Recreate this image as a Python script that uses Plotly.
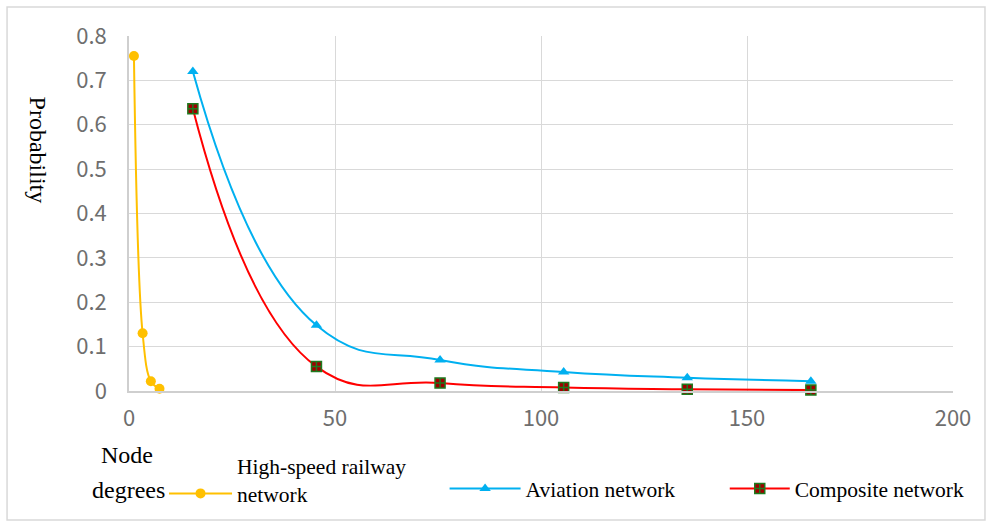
import plotly.graph_objects as go

# Data
hsr_x = [1.2, 3.3, 5.3, 7.4]
hsr_y = [0.755, 0.130, 0.022, 0.005]

air_x = [15.5, 45.5, 75.5, 105.5, 135.5, 165.5]
air_y = [0.720, 0.148, 0.070, 0.043, 0.030, 0.022]

comp_x = [15.5, 45.5, 75.5, 105.5, 135.5, 165.5]
comp_y = [0.636, 0.055, 0.018, 0.008, 0.004, 0.002]

names = ["High-speed railway<br>network", "Aviation network", "Composite network"]

serif = "Liberation Serif, Times New Roman, serif"
sans = "Noto Sans CJK SC, Noto Sans, sans-serif"

fig = go.Figure()
fig.add_trace(go.Scatter(
    x=hsr_x, y=hsr_y, name=names[0], mode="lines+markers",
    line=dict(color="#FFC000", width=2, shape="spline", smoothing=1),
    marker=dict(symbol="circle", size=10, color="#FFC000"),
    cliponaxis=False, legend="legend"))
fig.add_trace(go.Scatter(
    x=air_x, y=air_y, name=names[1], mode="lines+markers",
    line=dict(color="#00B0F0", width=2, shape="spline", smoothing=1.3),
    marker=dict(symbol="triangle-up", size=10, color="#00B0F0"),
    cliponaxis=False, legend="legend2"))
fig.add_trace(go.Scatter(
    x=comp_x, y=comp_y, name=names[2], mode="lines+markers",
    line=dict(color="#FF0000", width=2, shape="spline", smoothing=1.3),
    marker=dict(symbol="square-cross", size=10, color="#A00000",
                line=dict(color="#1E7A1E", width=1.5)),
    cliponaxis=False, legend="legend3"))

axis_common = dict(showgrid=True, gridcolor="#D9D9D9", gridwidth=1,
                   zeroline=False, showline=True, linecolor="#CFCFCF",
                   linewidth=1.5, ticks="",
                   tickfont=dict(family=sans, size=22, color="#6E6E6E"))

fig.update_xaxes(range=[0, 200], dtick=50, tick0=0, ticklabelstandoff=7, **axis_common)
fig.update_yaxes(range=[0, 0.8], dtick=0.1, tick0=0, ticklabelstandoff=16, **axis_common)

legend_common = dict(orientation="h", yanchor="top", xanchor="left",
                     font=dict(family=serif, size=21.5, color="#000000"),
                     bgcolor="rgba(0,0,0,0)", valign="bottom")

fig.update_layout(
    width=990, height=525,
    margin=dict(l=129, r=37, t=36, b=134, autoexpand=False),
    paper_bgcolor="white", plot_bgcolor="white",
    showlegend=True,
    legend=dict(x=0.0425, y=-0.152, itemwidth=63, **legend_common),
    legend2=dict(x=0.383, y=-0.217, itemwidth=71, **legend_common),
    legend3=dict(x=0.723, y=-0.217, itemwidth=60, **legend_common),
    annotations=[
        dict(text="Probability", x=-0.110, y=0.679, xref="paper", yref="paper",
             xanchor="center", yanchor="middle",
             textangle=90, showarrow=False,
             font=dict(family=serif, size=24, color="#000000")),
        dict(text="Node", x=-0.002, y=-0.180, xref="paper", yref="paper",
             xanchor="center", yanchor="middle", showarrow=False,
             font=dict(family=serif, size=24, color="#000000")),
        dict(text="degrees", x=-0.001, y=-0.279, xref="paper", yref="paper",
             xanchor="center", yanchor="middle", showarrow=False,
             font=dict(family=serif, size=24, color="#000000")),
    ],
    shapes=[dict(type="rect", xref="paper", yref="paper",
                 x0=-0.148, x1=1.0388, y0=-0.3634, y1=1.0817,
                 line=dict(color="#D9D9D9", width=1.5), fillcolor="rgba(0,0,0,0)",
                 layer="below")],
)

fig.write_html("out.html")
